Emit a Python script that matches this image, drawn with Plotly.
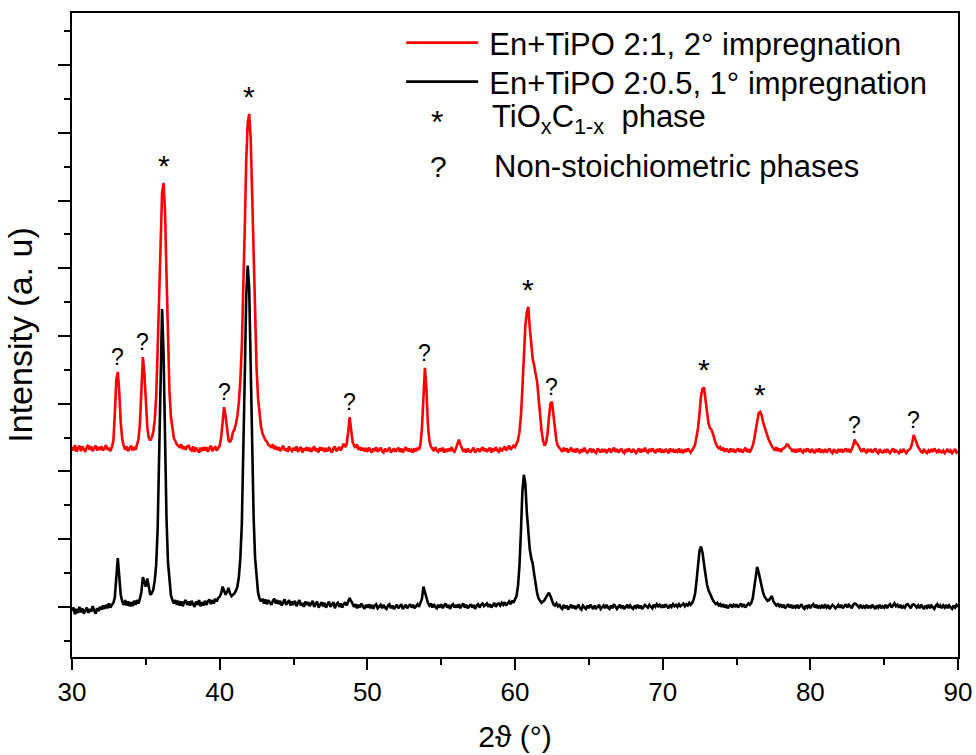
import numpy as np
import plotly.graph_objects as go

# 2-theta scan grid (degrees): start, number of points, step
scan_start = 30.0
scan_points = 601
scan_step = 0.1

# Red: En+TiPO 2:1, 2nd impregnation (intensity, a.u.; one row per degree, 0.1 deg steps)
red_intensity = [
    236, 231, 239, 229, 235, 238, 230, 237, 233, 229,  # 30
    236, 239, 232, 237, 230, 234, 238, 231, 236, 232,  # 31
    237, 231, 234, 239, 232, 235, 230, 236, 245, 285,  # 32
    335, 347, 318, 272, 248, 238, 232, 237, 230, 234,  # 33
    238, 231, 236, 232, 238, 247, 270, 330, 369, 345,  # 34
    300, 265, 250, 246, 250, 258, 275, 310, 380, 450,  # 35
    545, 612, 626, 585, 490, 390, 318, 280, 260, 249,  # 36
    245, 240, 238, 235, 240, 233, 237, 232, 237, 238,  # 37
    233, 231, 237, 229, 235, 232, 228, 235, 230, 236,  # 38
    231, 236, 229, 234, 238, 230, 233, 237, 231, 235,  # 39
    238, 250, 275, 295, 282, 258, 246, 243, 248, 258,  # 40
    262, 270, 282, 302, 335, 385, 455, 560, 660, 715,  # 41
    728, 692, 610, 510, 420, 352, 308, 282, 266, 256,  # 42
    250, 246, 244, 239, 238, 235, 240, 233, 236, 232,  # 43
    236, 230, 234, 238, 231, 234, 229, 237, 232, 230,  # 44
    235, 231, 237, 229, 233, 236, 228, 234, 231, 236,  # 45
    230, 235, 229, 233, 237, 230, 234, 228, 236, 231,  # 46
    235, 229, 233, 230, 236, 231, 228, 234, 237, 230,  # 47
    233, 236, 231, 237, 241, 236, 240, 258, 280, 262,  # 48
    244, 238, 235, 240, 232, 236, 231, 235, 230, 233,  # 49
    229, 235, 231, 228, 234, 230, 236, 229, 232, 235,  # 50
    230, 228, 234, 229, 232, 235, 228, 231, 234, 229,  # 51
    232, 235, 229, 234, 228, 232, 236, 230, 234, 229,  # 52
    232, 228, 234, 230, 235, 232, 240, 265, 320, 353,  # 53
    322, 270, 246, 237, 234, 230, 236, 231, 229, 234,  # 54
    230, 235, 228, 233, 229, 234, 230, 236, 231, 229,  # 55
    234, 240, 247, 240, 234, 229, 233, 228, 234, 230,  # 56
    229, 233, 235, 228, 231, 234, 229, 232, 236, 230,  # 57
    234, 229, 232, 235, 228, 234, 230, 236, 231, 229,  # 58
    235, 230, 233, 237, 231, 234, 238, 232, 235, 238,  # 59
    236, 240, 246, 258, 282, 322, 372, 415, 435, 443,  # 60
    412, 382, 366, 356, 346, 332, 308, 282, 260, 245,  # 61
    238, 242, 255, 280, 300, 303, 286, 262, 246, 238,  # 62
    235, 232, 229, 235, 230, 234, 228, 232, 235, 229,  # 63
    233, 228, 234, 230, 227, 233, 229, 235, 230, 228,  # 64
    232, 234, 228, 233, 229, 227, 234, 230, 228, 233,  # 65
    229, 233, 227, 231, 234, 228, 231, 235, 229, 233,  # 66
    228, 231, 234, 229, 227, 233, 229, 234, 230, 228,  # 67
    233, 229, 227, 231, 234, 228, 233, 229, 235, 230,  # 68
    228, 233, 229, 234, 230, 227, 233, 229, 234, 228,  # 69
    231, 228, 233, 229, 227, 234, 229, 233, 228, 231,  # 70
    229, 234, 228, 231, 227, 233, 229, 234, 230, 228,  # 71
    232, 235, 240, 250, 265, 287, 312, 322, 324, 306,  # 72
    287, 272, 264, 262, 256, 248, 241, 237, 234, 236,  # 73
    231, 235, 229, 234, 230, 228, 234, 229, 233, 228,  # 74
    231, 234, 229, 233, 228, 231, 235, 229, 233, 228,  # 75
    233, 238, 248, 262, 278, 286, 288, 283, 273, 265,  # 76
    259, 252, 246, 241, 237, 234, 231, 236, 230, 234,  # 77
    229, 233, 234, 236, 240, 239, 235, 233, 229, 233,  # 78
    228, 233, 229, 234, 230, 228, 233, 229, 234, 230,  # 79
    228, 233, 229, 227, 233, 229, 234, 228, 231, 229,  # 80
    233, 228, 231, 234, 229, 227, 233, 229, 228, 233,  # 81
    229, 233, 228, 231, 234, 229, 233, 228, 233, 238,  # 82
    247, 242, 240, 235, 232, 229, 234, 230, 228, 233,  # 83
    229, 233, 228, 231, 234, 229, 227, 233, 229, 228,  # 84
    231, 228, 233, 229, 227, 231, 234, 228, 231, 229,  # 85
    227, 231, 228, 233, 229, 227, 231, 232, 235, 242,  # 86
    254, 247, 240, 236, 233, 229, 228, 233, 229, 227,  # 87
    231, 228, 233, 229, 234, 230, 227, 233, 229, 228,  # 88
    231, 227, 230, 233, 228, 231, 227, 230, 233, 228,  # 89
    230,                                               # 90
]

# Black: En+TiPO 2:0.5, 1st impregnation
black_intensity = [
    -6, -1, -11, -3, -9, 0, -8, -2, -10, -5,           # 30
    -1, -9, -3, -7, 1, -5, -10, -2, -6, 0,             # 31
    -4, 2, -3, 3, -2, 5, -1, 3, 6, 14,                 # 32
    40, 72, 45, 18, 8, 3, 10, 2, 8, 1,                 # 33
    7, 1, 9, 3, 10, 5, 12, 22, 44, 36,                 # 34
    30, 42, 28, 18, 20, 25, 38, 62, 115, 225,          # 35
    370, 440, 375, 245, 130, 66, 34, 17, 10, 5,        # 36
    10, 3, 9, 2, 8, 1, 7, 10, 3, 8,                    # 37
    2, 9, 4, 0, 8, 3, 10, 1, 7, 2,                     # 38
    9, 3, 8, 11, 4, 10, 5, 12, 8, 13,                  # 39
    15, 20, 30, 24, 18, 22, 28, 20, 16, 18,            # 40
    20, 24, 30, 44, 72, 122, 212, 340, 460, 504,       # 41
    470, 362, 232, 132, 72, 38, 21, 12, 8, 12,         # 42
    5, 11, 4, 10, 6, 3, 9, 12, 5, 10,                  # 43
    4, 9, 2, 8, 11, 3, 7, 10, 2, 8,                    # 44
    3, 9, 1, 7, 10, 2, 6, 0, 8, 3,                     # 45
    7, 1, 6, 9, 0, 5, 8, -1, 4, 7,                     # 46
    1, 6, -1, 5, 8, 0, 4, 7, -2, 4,                    # 47
    6, 0, 5, -1, 4, 7, 2, 7, 13, 9,                    # 48
    4, 0, 4, -2, 3, -1, 5, 0, -3, 3,                   # 49
    -1, 4, -2, 3, -3, 2, 4, -2, 0, 3,                  # 50
    -2, 3, -1, -3, 2, 4, -2, 2, -3, 1,                 # 51
    3, -2, 2, 4, -3, 0, 3, -2, 2, 4,                   # 52
    -1, 3, -2, 2, 4, 0, 5, 12, 30, 22,                 # 53
    12, 6, 2, 5, -1, 4, 0, -2, 3, -1,                  # 54
    4, -2, 2, 5, -1, 3, -3, 2, 4, -1,                  # 55
    3, -1, 4, -2, 2, 5, -1, 3, -2, 2,                  # 56
    4, -1, 3, -3, 2, 4, -1, 3, 5, 1,                   # 57
    3, 5, 0, 4, -1, 3, 6, 0, 4, 5,                     # 58
    2, 6, 3, 7, 2, 5, 8, 4, 9, 6,                      # 59
    10, 16, 30, 60, 110, 170, 195, 182, 140, 105,      # 60
    85, 72, 64, 48, 32, 20, 12, 8, 6, 8,               # 61
    10, 14, 17, 21, 16, 8, 4, 2, 5, 1,                 # 62
    4, -1, -3, 3, -2, 2, -4, 0, 3, -2,                 # 63
    2, -3, 0, 3, -2, -4, 2, -1, -3, 2,                 # 64
    -2, 3, -1, -3, 2, -2, 0, 3, -3, 0,                 # 65
    2, -2, 3, -1, -3, 2, -2, 4, 0, -3,                 # 66
    0, 3, -2, 2, -3, 0, 3, -2, 2, -1,                  # 67
    -3, 2, -1, 3, -2, 2, -3, 0, 3, 1,                  # 68
    -1, 3, 1, -2, 3, 0, 4, 1, 3, -1,                   # 69
    3, -1, 4, 1, -2, 3, 0, 4, 1, 3,                    # 70
    0, 4, 1, 3, 5, 1, 4, 2, 6, 3,                      # 71
    6, 11, 20, 40, 65, 84, 89, 80, 63, 46,             # 72
    33, 25, 19, 14, 10, 7, 4, 6, 2, 4,                 # 73
    0, 4, -1, 3, -2, 1, 4, -1, 3, 1,                   # 74
    4, -1, 3, 5, 0, 4, -1, 3, 5, 3,                    # 75
    6, 13, 28, 48, 59, 51, 39, 29, 21, 15,             # 76
    11, 9, 10, 14, 16, 8, 4, 2, 4, 1,                  # 77
    4, -1, 3, -2, 1, 4, -1, 3, -2, 1,                  # 78
    -1, 3, -2, 1, 4, -1, -3, 2, -1, 3,                 # 79
    -2, 2, 4, -1, 3, -2, 1, -1, 3, -2,                 # 80
    2, -1, 3, -3, 0, 3, 1, -2, 0, 3,                   # 81
    -1, 3, -2, 1, 4, -1, 3, 1, -2, 3,                  # 82
    5, 4, 2, -1, 3, -2, 1, -1, 3, -2,                  # 83
    2, -2, 3, -1, -3, 2, -1, 3, -2, 1,                 # 84
    -1, 3, -2, 2, 4, -1, 3, 5, 1, 3,                   # 85
    -1, 3, -2, 1, -1, 3, 4, 1, -2, 3,                  # 86
    4, 2, -1, 2, -2, 3, -1, -3, 2, -1,                 # 87
    3, -2, 2, -1, -3, 2, 4, -1, 2, -2,                 # 88
    2, -1, 3, -2, 2, -1, -3, 2, -1, 3,                 # 89
    0,                                                 # 90
]

# Peak markers placed above the red pattern
peak_positions = [33.1, 34.8, 36.2, 40.3, 42.0, 48.8, 53.9, 60.9, 62.5, 72.8, 76.6, 83.0, 87.0]
peak_symbols = ['?', '?', '*', '?', '*', '?', '?', '*', '?', '*', '*', '?', '?']

series_names = ['En+TiPO 2:1, 2° impregnation', 'En+TiPO 2:0.5, 1° impregnation']
phase_symbols = ['*', '?']
phase_labels = ['TiO<sub>x</sub>C<sub>1-x</sub>  phase', 'Non-stoichiometric phases']

two_theta = np.round(scan_start + scan_step * np.arange(scan_points), 1)
red = np.array(red_intensity, dtype=float)
black = np.array(black_intensity, dtype=float)

FONT = 'Liberation Sans, Arial, sans-serif'
LEG_SIZE = 31

fig = go.Figure()
fig.add_trace(go.Scatter(x=two_theta, y=red, mode='lines', name='\u2009' + series_names[0],
                         line=dict(color='#ff0000', width=2.6), legend='legend'))
fig.add_trace(go.Scatter(x=two_theta, y=black, mode='lines', name='\u2009' + series_names[1],
                         line=dict(color='#000000', width=2.6), legend='legend2'))

annotations = []
for pos, sym in zip(peak_positions, peak_symbols):
    near = np.abs(two_theta - pos) <= 0.25
    top = red[near].max()
    star = sym == '*'
    annotations.append(dict(x=pos, y=top, xref='x', yref='y', text=sym, showarrow=False,
                            yanchor='bottom', xanchor='center', yshift=(-1 if star else 0),
                            font=dict(family=FONT, size=(30 if star else 23), color='black')))

# phase-symbol rows of the legend (symbol column + label column, paper coords)
sym_x = [0.412, 0.414]
sym_y = [0.830, 0.761]
lab_x = [0.4718, 0.4735]
lab_y = [0.835, 0.761]
for i in range(2):
    annotations.append(dict(x=sym_x[i], y=sym_y[i], xref='paper', yref='paper',
                            text=phase_symbols[i], showarrow=False, xanchor='center', yanchor='middle',
                            font=dict(family=FONT, size=(32 if i == 0 else 30), color='black')))
    annotations.append(dict(x=lab_x[i], y=lab_y[i], xref='paper', yref='paper',
                            text=phase_labels[i], showarrow=False, xanchor='left', yanchor='middle',
                            font=dict(family=FONT, size=LEG_SIZE, color='black')))

legend_common = dict(xanchor='left', yanchor='middle', bgcolor='rgba(0,0,0,0)', borderwidth=0,
                     font=dict(family=FONT, size=LEG_SIZE, color='black'), itemwidth=72)

fig.update_layout(
    width=976, height=755,
    margin=dict(l=72, r=18, t=13, b=98),
    plot_bgcolor='white', paper_bgcolor='white',
    font=dict(family=FONT, color='black'),
    showlegend=True,
    legend=dict(x=0.3715, y=0.9534, **legend_common),
    legend2=dict(x=0.3715, y=0.8929, **legend_common),
    annotations=annotations,
    xaxis=dict(range=[30, 90], tickmode='linear', tick0=30, dtick=10, automargin=False,
               ticks='outside', ticklen=11, tickwidth=2, tickcolor='black',
               minor=dict(dtick=5, ticks='outside', ticklen=6, tickwidth=2, tickcolor='black'),
               showline=True, linewidth=2, linecolor='black', mirror=True,
               showgrid=False, zeroline=False,
               tickfont=dict(family=FONT, size=26, color='black'),
               title=dict(text='2ϑ (°)', font=dict(family=FONT, size=30, color='black'), standoff=20)),
    yaxis=dict(range=[-74, 877], tickmode='linear', tick0=0, dtick=100, automargin=False,
               ticks='outside', ticklen=12, tickwidth=2, tickcolor='black',
               minor=dict(dtick=50, ticks='outside', ticklen=6, tickwidth=2, tickcolor='black'),
               showticklabels=False,
               showline=True, linewidth=2, linecolor='black', mirror=True,
               showgrid=False, zeroline=False,
               title=dict(text='Intensity (a. u)', font=dict(family=FONT, size=34, color='black'), standoff=15)),
)

fig.write_html('out.html', config={'displayModeBar': False},
               post_script="document.body.style.margin='0';")
